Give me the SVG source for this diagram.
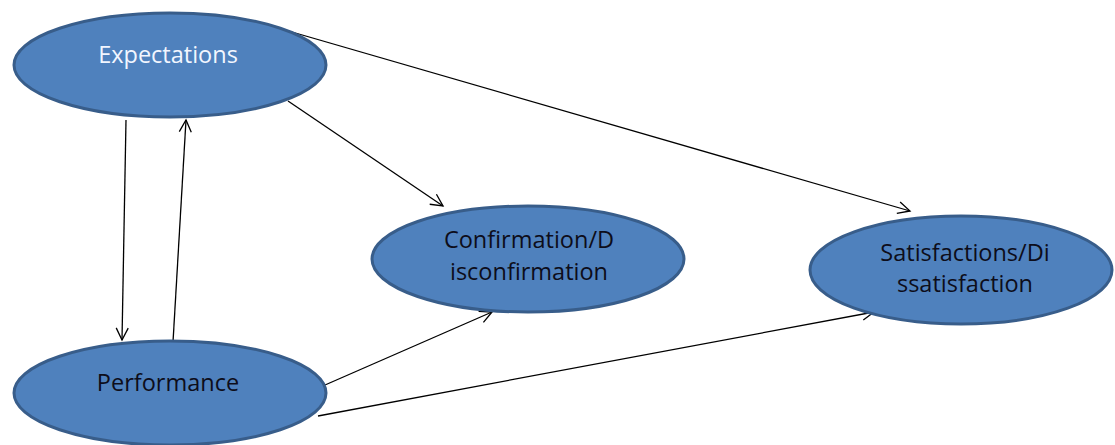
<svg xmlns="http://www.w3.org/2000/svg" width="1115" height="445" viewBox="0 0 1115 445">
<style>
.node{fill:#4f81bd;stroke:#385d8a;stroke-width:3}
.lbl{font-family:"Open Sans","Liberation Sans",sans-serif;font-size:23.5px;text-anchor:middle;fill:#0d0d1a}
.wh{fill:#f2f6ff}
.conn{stroke:#000;stroke-width:1.3;fill:none;marker-end:url(#arr)}
</style>
<defs>
<marker id="arr" markerWidth="16" markerHeight="16" refX="14" refY="8" orient="auto" markerUnits="userSpaceOnUse">
<path d="M2,2 L14,8 L2,14" fill="none" stroke="#000" stroke-width="1.3"/>
</marker>
</defs>
<rect width="1115" height="445" fill="#fff"/>
<g id="connectors">
<line class="conn" x1="126" y1="120" x2="122" y2="340"/>
<line class="conn" x1="173" y1="342" x2="186" y2="120"/>
<line class="conn" x1="288" y1="101" x2="443" y2="206"/>
<line class="conn" x1="285" y1="30" x2="910" y2="211"/>
<line class="conn" x1="325" y1="385" x2="492" y2="312"/>
<line class="conn" x1="318" y1="416" x2="874" y2="312"/>
</g>
<g id="expectations">
<ellipse class="node" cx="170" cy="65" rx="156" ry="52"/>
<text class="lbl wh" x="168" y="63">Expectations</text>
</g>
<g id="confirmation">
<ellipse class="node" cx="528" cy="259" rx="156" ry="53"/>
<text class="lbl" x="529" y="248">Confirmation/D</text>
<text class="lbl" x="529" y="280">isconfirmation</text>
</g>
<g id="satisfaction">
<ellipse class="node" cx="961" cy="270" rx="151" ry="54"/>
<text class="lbl" x="965" y="261">Satisfactions/Di</text>
<text class="lbl" x="965" y="292">ssatisfaction</text>
</g>
<g id="performance">
<ellipse class="node" cx="170" cy="393" rx="156" ry="52"/>
<text class="lbl" x="168" y="391">Performance</text>
</g>
</svg>
